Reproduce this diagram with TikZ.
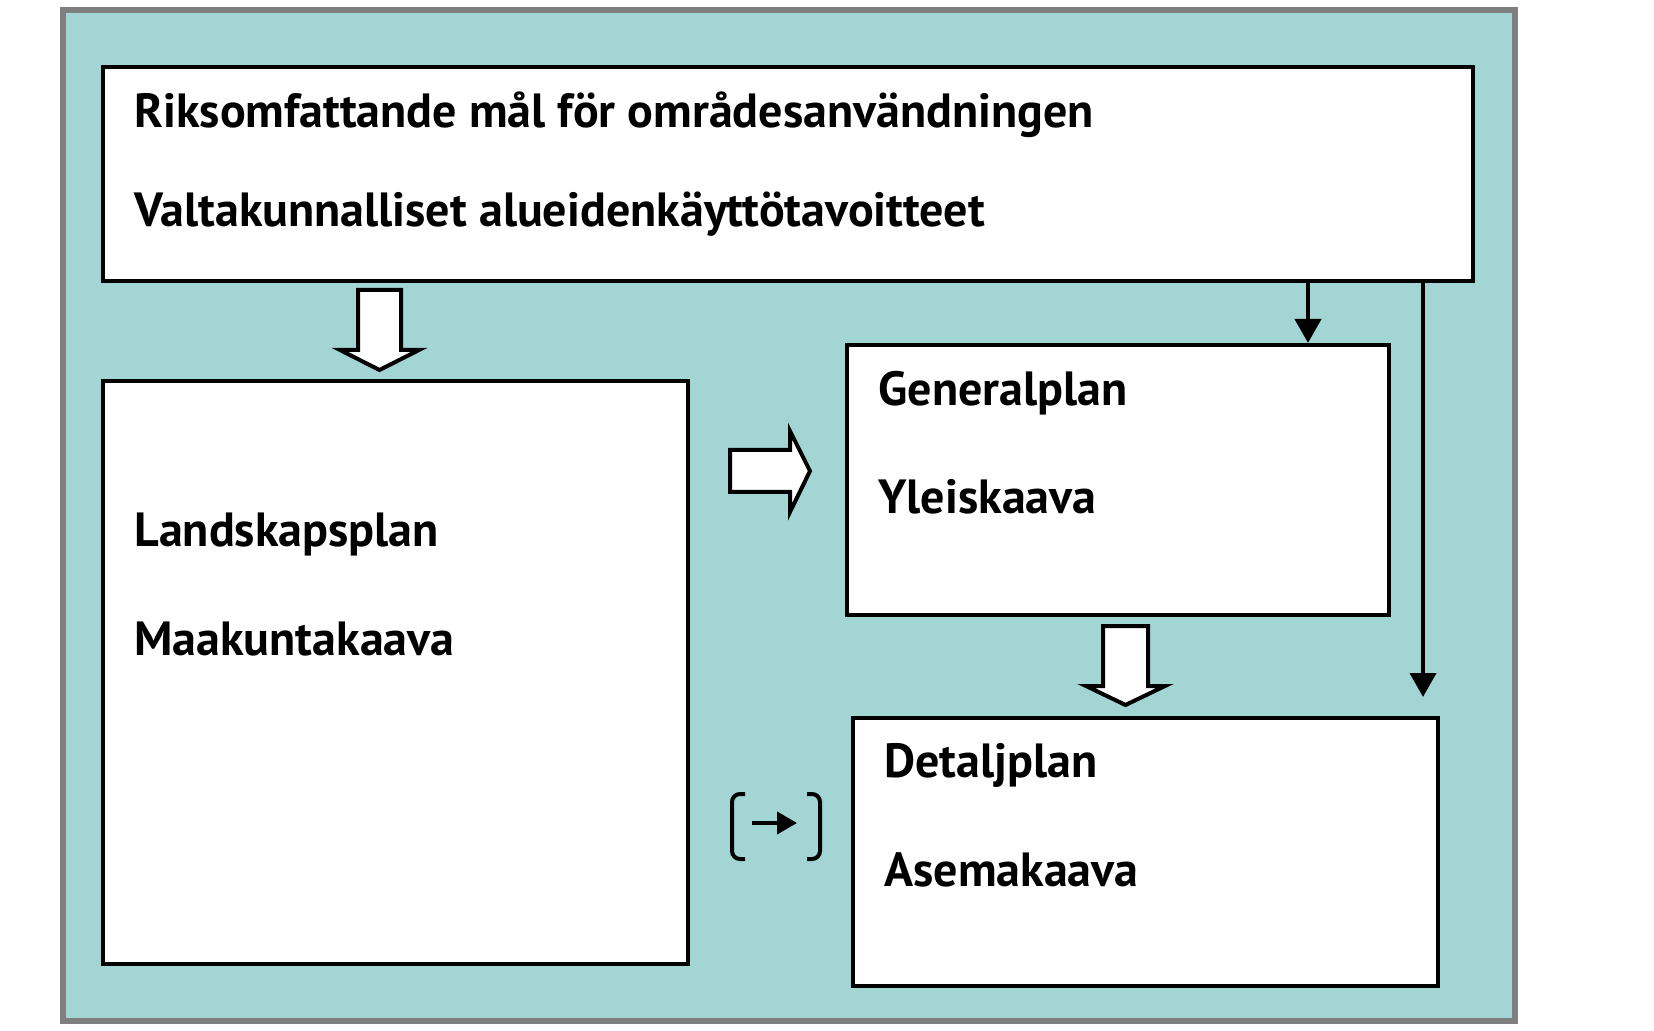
\documentclass[tikz,border=0pt]{standalone}
\usepackage{fontspec}
\setmainfont{PT Sans}
\usepackage{tikz}
\usetikzlibrary{positioning, arrows.meta, calc}
\definecolor{tealBg}{HTML}{A3D5D5}
\definecolor{frameGray}{HTML}{7F7F7F}

\begin{document}
\begin{tikzpicture}[x=0.5pt,y=-0.5pt]
    \tikzset{box/.style={draw=black,fill=white,line width=2pt,anchor=north west,inner sep=0pt},
      lbl/.style={anchor=base west,inner sep=0pt,font=\fontsize{24}{27}\selectfont\bfseries},
      blk/.style={draw=black,fill=white,line width=2pt,line join=miter},
      thinarrow/.style={line width=2pt,-{Triangle[length=12pt,width=13pt]}}}
    \useasboundingbox (0,0) rectangle (1654,1031);
    \draw[frameGray,fill=tealBg,line width=3pt] (63,10) rectangle (1515,1021);
    % boxes
    \node[box,minimum width=685pt,minimum height=107pt] (top) at (101,65) {};
    \node[box,minimum width=292.5pt,minimum height=291.5pt] (land) at (101,379) {};
    \node[box,minimum width=271pt,minimum height=135pt] (gen) at (845,343) {};
    \node[box,minimum width=292.5pt,minimum height=134pt] (det) at (851,716) {};
    % texts
    \node[lbl] (t1) at (134,128) {Riksomfattande mål för områdesanvändningen};
    \node[lbl] (t2) at (134,227) {Valtakunnalliset alueidenkäyttötavoitteet};
    \node[lbl] (g1) at (878,406) {Generalplan};
    \node[lbl] (g2) at (878,514) {Yleiskaava};
    \node[lbl] (l1) at (134,546) {Landskapsplan};
    \node[lbl] (l2) at (134,655) {Maakuntakaava};
    \node[lbl] (d1) at (884,777) {Detaljplan};
    \node[lbl] (d2) at (884,886) {Asemakaava};
    % block arrows
    \draw[blk] (358,290) -- (401,290) -- (401,350) -- (419,350) -- (379.5,370) -- (340,350) -- (358,350) -- cycle;
    \draw[blk] (730,450) -- (790,450) -- (790,431) -- (810,471) -- (790,512) -- (790,492) -- (730,492) -- cycle;
    \draw[blk] (1103,626) -- (1148,626) -- (1148,686) -- (1165,686) -- (1125.5,705) -- (1086,686) -- (1103,686) -- cycle;
    % thin arrows
    \coordinate (ga) at (1308,0);
    \coordinate (dend) at (1423,697);
    \draw[thinarrow] (top.south -| ga) -- (gen.north -| ga);
    \draw[thinarrow] (top.south -| dend) -- (dend);
    % bracket
    \draw[line width=2pt,rounded corners=4pt] (745,794) -- (732,794) -- (732,859) -- (745,859);
    \draw[line width=2pt,rounded corners=4pt] (807,794) -- (820,794) -- (820,859) -- (807,859);
    \draw[line width=2pt,-{Triangle[length=10pt,width=11pt]}] (752,823) -- (797,823);
  \end{tikzpicture}
\end{document}
